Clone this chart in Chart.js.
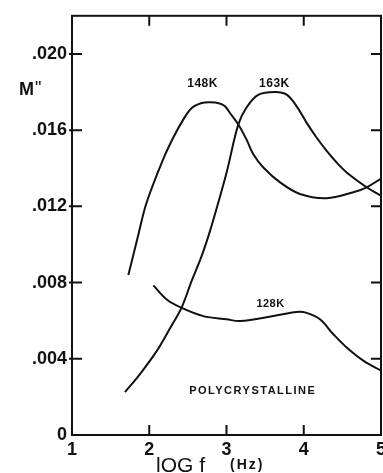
<!DOCTYPE html>
<html>
<head>
<meta charset="utf-8">
<script src="https://cdn.jsdelivr.net/npm/chart.js@4/dist/chart.umd.min.js"></script>
<style>
  html, body { margin: 0; padding: 0; background: #fff; }
  canvas { display: block; }
</style>
</head>
<body>
<canvas id="c" width="383" height="473"></canvas>
<script>
// log f (Hz) on x, M'' on y
const xTicks = [1, 2, 3, 4, 5];
const yTicks = [0, 0.004, 0.008, 0.012, 0.016, 0.020];

const curve148K = [
  [1.729, 0.0084], [1.773, 0.0091], [1.858, 0.0105], [1.966, 0.0122], [2.18, 0.01447],
  [2.31, 0.0156], [2.44, 0.01655], [2.55, 0.01716], [2.68, 0.01742], [2.786, 0.01746],
  [2.91, 0.0174], [2.98, 0.01725], [3.045, 0.0169], [3.153, 0.0163], [3.26, 0.0155],
  [3.347, 0.01473], [3.477, 0.01404], [3.693, 0.01326], [3.95, 0.01265], [4.297, 0.01243],
  [4.641, 0.01274], [4.815, 0.0130], [4.99, 0.01343]
];
const curve163K = [
  [1.686, 0.00225], [1.88, 0.0032], [2.096, 0.0044], [2.269, 0.0056], [2.42, 0.0067],
  [2.55, 0.0081], [2.679, 0.0094], [2.786, 0.0107], [2.894, 0.0122], [3.003, 0.0138],
  [3.153, 0.0163], [3.261, 0.0172], [3.41, 0.01785], [3.628, 0.0180], [3.779, 0.01786],
  [3.908, 0.01725], [4.038, 0.01638], [4.168, 0.0156], [4.297, 0.01491], [4.426, 0.0143],
  [4.556, 0.01378], [4.815, 0.0130], [4.99, 0.01257]
];
const curve128K = [
  [2.053, 0.00785], [2.226, 0.00711], [2.42, 0.00667], [2.70, 0.00624], [3.003, 0.00607],
  [3.175, 0.00598], [3.606, 0.00624], [3.909, 0.00646], [4.038, 0.00641], [4.21, 0.00607],
  [4.383, 0.00529], [4.556, 0.00459], [4.771, 0.0039], [5.0, 0.00338]
];

// Curve captions placed in data coordinates
const curveLabels = [
  { text: '148K', x: 2.69, y: 0.01844, size: 12 },
  { text: '163K', x: 3.62, y: 0.01844, size: 12 },
  { text: '128K', x: 3.57, y: 0.00686, size: 11 },
  { text: 'POLYCRYSTALLINE', x: 3.34, y: 0.00229, size: 11, spacing: 1.5 }
];

const FONT = '"Liberation Sans", Arial, Helvetica, sans-serif';
const INK = '#111';

const toPoints = arr => arr.map(([x, y]) => ({ x, y }));
const lineSet = arr => ({
  data: toPoints(arr),
  borderColor: INK,
  borderWidth: 2,
  pointRadius: 0,
  fill: false,
  tension: 0.35
});

const framePlugin = {
  id: 'frame',
  afterDraw(chart) {
    const { ctx, chartArea: a, scales: { x, y } } = chart;
    ctx.save();
    ctx.strokeStyle = INK;
    ctx.lineWidth = 2;
    ctx.strokeRect(a.left, a.top, a.right - a.left, a.bottom - a.top);

    // inward tick marks on all four sides
    const len = 10;
    ctx.beginPath();
    xTicks.forEach(v => {
      if (v === xTicks[0] || v === xTicks[xTicks.length - 1]) return;
      const px = x.getPixelForValue(v);
      ctx.moveTo(px, a.bottom); ctx.lineTo(px, a.bottom - len);
      ctx.moveTo(px, a.top); ctx.lineTo(px, a.top + len);
    });
    yTicks.forEach(v => {
      if (v === 0) return;
      const py = y.getPixelForValue(v);
      ctx.moveTo(a.left - 3, py); ctx.lineTo(a.left + len, py);
      ctx.moveTo(a.right, py); ctx.lineTo(a.right - len, py);
    });
    ctx.stroke();

    // curve captions
    ctx.fillStyle = INK;
    ctx.textAlign = 'center';
    ctx.textBaseline = 'middle';
    curveLabels.forEach(l => {
      ctx.font = `bold ${l.size}px ${FONT}`;
      ctx.letterSpacing = (l.spacing || 0.5) + 'px';
      ctx.fillText(l.text, x.getPixelForValue(l.x), y.getPixelForValue(l.y));
    });
    ctx.letterSpacing = '0px';

    // y axis title
    ctx.textAlign = 'left';
    ctx.font = `bold 18px ${FONT}`;
    ctx.fillText('M', 19, 90);
    ctx.font = `18px ${FONT}`;
    ctx.fillText('"', 35, 89);

    // x axis title
    ctx.textBaseline = 'alphabetic';
    ctx.font = `21px ${FONT}`;
    ctx.fillText('lOG f', 156, 472);
    ctx.font = `bold 14px ${FONT}`;
    ctx.letterSpacing = '2px';
    ctx.fillText('(Hz)', 230, 469);
    ctx.letterSpacing = '0px';
    ctx.restore();
  }
};

new Chart(document.getElementById('c'), {
  type: 'line',
  data: {
    datasets: [lineSet(curve148K), lineSet(curve163K), lineSet(curve128K)]
  },
  options: {
    responsive: false,
    animation: false,
    layout: { padding: { top: 12, right: 2, left: 0, bottom: 0 } },
    plugins: { legend: { display: false }, tooltip: { enabled: false } },
    scales: {
      x: {
        type: 'linear',
        min: 1, max: 5,
        afterBuildTicks: s => { s.ticks = xTicks.map(v => ({ value: v })); },
        afterFit: s => { s.height = 38; s.paddingLeft = 0; s.paddingRight = 0; },
        grid: { display: false, drawTicks: false },
        border: { display: false },
        ticks: {
          padding: 4,
          color: INK,
          font: { family: FONT, size: 18, weight: 'bold' },
          maxRotation: 0,
          autoSkip: false
        }
      },
      y: {
        type: 'linear',
        min: 0, max: 0.022,
        afterBuildTicks: s => { s.ticks = yTicks.map(v => ({ value: v })); },
        afterFit: s => { s.width = 72; },
        grid: { display: false, drawTicks: false },
        border: { display: false },
        ticks: {
          padding: 5,
          color: INK,
          font: { family: FONT, size: 18, weight: 'bold' },
          autoSkip: false,
          callback: v => v === 0 ? '0' : v.toFixed(3).replace(/^0/, '')
        }
      }
    }
  },
  plugins: [framePlugin]
});
</script>
</body>
</html>
